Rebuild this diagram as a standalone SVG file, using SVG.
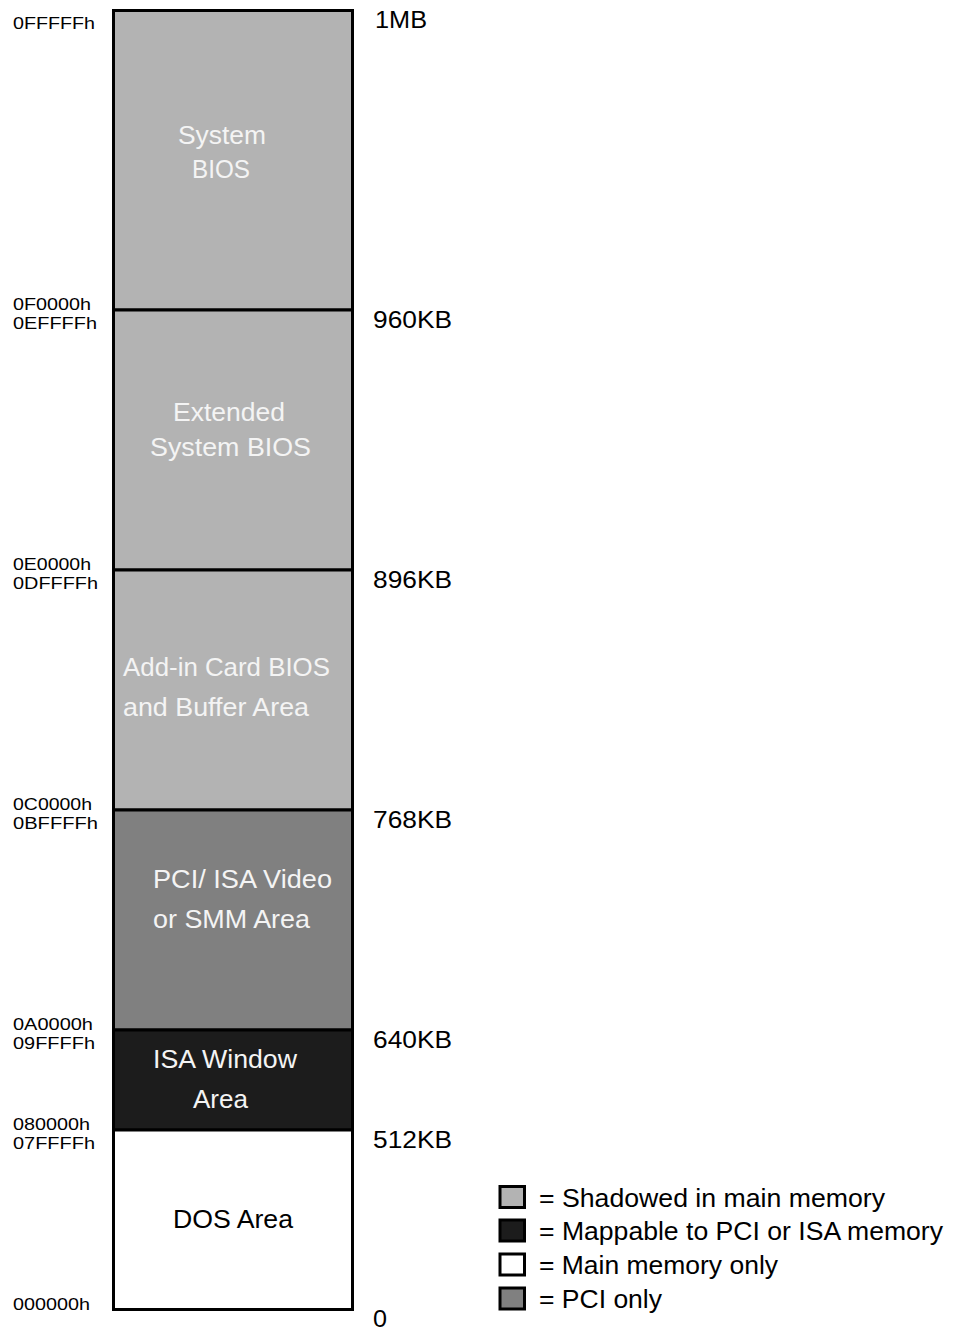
<svg xmlns="http://www.w3.org/2000/svg" width="957" height="1330" viewBox="0 0 957 1330">
<style>
  .blk { stroke: #000; stroke-width: 3; }
  .shadow { fill: #b3b3b3; }
  .pci { fill: #808080; }
  .isa { fill: #1c1c1c; }
  .main { fill: #ffffff; }
  .lbl { font-family: "Liberation Sans", Arial, sans-serif; font-size: 25px; fill: #f4f4f4; }
  .lbld { font-family: "Liberation Sans", Arial, sans-serif; font-size: 25px; fill: #000; }
  .addr { font-family: "Liberation Sans", Arial, sans-serif; font-size: 16.5px; fill: #000; }
  .size { font-family: "Liberation Sans", Arial, sans-serif; font-size: 23px; fill: #000; }
  .leg { font-family: "Liberation Sans", Arial, sans-serif; font-size: 25px; fill: #000; }
</style>
<rect width="957" height="1330" fill="#ffffff"/>

<g id="system-bios">
  <rect class="blk shadow" x="113.5" y="10.5" width="239" height="299.5"/>
  <text class="lbl" x="178" y="144" textLength="88" lengthAdjust="spacingAndGlyphs">System</text>
  <text class="lbl" x="192" y="178" textLength="58" lengthAdjust="spacingAndGlyphs">BIOS</text>
</g>
<g id="extended-system-bios">
  <rect class="blk shadow" x="113.5" y="310" width="239" height="260"/>
  <text class="lbl" x="173" y="421" textLength="112" lengthAdjust="spacingAndGlyphs">Extended</text>
  <text class="lbl" x="150" y="456" textLength="161" lengthAdjust="spacingAndGlyphs">System BIOS</text>
</g>
<g id="addin-card-bios">
  <rect class="blk shadow" x="113.5" y="570" width="239" height="240"/>
  <text class="lbl" x="123" y="676" textLength="207" lengthAdjust="spacingAndGlyphs">Add-in Card BIOS</text>
  <text class="lbl" x="123" y="716" textLength="186" lengthAdjust="spacingAndGlyphs">and Buffer Area</text>
</g>
<g id="pci-isa-video">
  <rect class="blk pci" x="113.5" y="810" width="239" height="220"/>
  <text class="lbl" x="153" y="888" textLength="179" lengthAdjust="spacingAndGlyphs">PCI/ ISA Video</text>
  <text class="lbl" x="153" y="928" textLength="157" lengthAdjust="spacingAndGlyphs">or SMM Area</text>
</g>
<g id="isa-window">
  <rect class="blk isa" x="113.5" y="1030" width="239" height="100"/>
  <text class="lbl" x="153" y="1068" textLength="144" lengthAdjust="spacingAndGlyphs">ISA Window</text>
  <text class="lbl" x="193" y="1108" textLength="55" lengthAdjust="spacingAndGlyphs">Area</text>
</g>
<g id="dos-area">
  <rect class="blk main" x="113.5" y="1130" width="239" height="179.5"/>
  <text class="lbld" x="173" y="1228" textLength="120" lengthAdjust="spacingAndGlyphs">DOS Area</text>
</g>

<g id="connectors"></g>

<g id="addresses">
  <text class="addr" x="13" y="29" textLength="82" lengthAdjust="spacingAndGlyphs">0FFFFFh</text>
  <text class="addr" x="13" y="310" textLength="78" lengthAdjust="spacingAndGlyphs">0F0000h</text>
  <text class="addr" x="13" y="329" textLength="84" lengthAdjust="spacingAndGlyphs">0EFFFFh</text>
  <text class="addr" x="13" y="570" textLength="78" lengthAdjust="spacingAndGlyphs">0E0000h</text>
  <text class="addr" x="13" y="589" textLength="85" lengthAdjust="spacingAndGlyphs">0DFFFFh</text>
  <text class="addr" x="13" y="810" textLength="79" lengthAdjust="spacingAndGlyphs">0C0000h</text>
  <text class="addr" x="13" y="829" textLength="85" lengthAdjust="spacingAndGlyphs">0BFFFFh</text>
  <text class="addr" x="13" y="1030" textLength="80" lengthAdjust="spacingAndGlyphs">0A0000h</text>
  <text class="addr" x="13" y="1049" textLength="82" lengthAdjust="spacingAndGlyphs">09FFFFh</text>
  <text class="addr" x="13" y="1130" textLength="77" lengthAdjust="spacingAndGlyphs">080000h</text>
  <text class="addr" x="13" y="1149" textLength="82" lengthAdjust="spacingAndGlyphs">07FFFFh</text>
  <text class="addr" x="13" y="1310" textLength="77" lengthAdjust="spacingAndGlyphs">000000h</text>
</g>

<g id="sizes">
  <text class="size" x="375" y="28" textLength="52" lengthAdjust="spacingAndGlyphs">1MB</text>
  <text class="size" x="373" y="328" textLength="79" lengthAdjust="spacingAndGlyphs">960KB</text>
  <text class="size" x="373" y="588" textLength="79" lengthAdjust="spacingAndGlyphs">896KB</text>
  <text class="size" x="373" y="828" textLength="79" lengthAdjust="spacingAndGlyphs">768KB</text>
  <text class="size" x="373" y="1048" textLength="79" lengthAdjust="spacingAndGlyphs">640KB</text>
  <text class="size" x="373" y="1148" textLength="79" lengthAdjust="spacingAndGlyphs">512KB</text>
  <text class="size" x="373" y="1327" textLength="14" lengthAdjust="spacingAndGlyphs">0</text>
</g>

<g id="legend">
  <rect class="blk shadow" x="500" y="1186.5" width="24.5" height="21"/>
  <text class="leg" x="539" y="1207" textLength="346" lengthAdjust="spacingAndGlyphs">= Shadowed in main memory</text>
  <rect class="blk isa" x="500" y="1220" width="24.5" height="21"/>
  <text class="leg" x="539" y="1240" textLength="404" lengthAdjust="spacingAndGlyphs">= Mappable to PCI or ISA memory</text>
  <rect class="blk main" x="500" y="1254" width="24.5" height="21"/>
  <text class="leg" x="539" y="1274" textLength="239" lengthAdjust="spacingAndGlyphs">= Main memory only</text>
  <rect class="blk pci" x="500" y="1288" width="24.5" height="21"/>
  <text class="leg" x="539" y="1308" textLength="123" lengthAdjust="spacingAndGlyphs">= PCI only</text>
</g>
</svg>
